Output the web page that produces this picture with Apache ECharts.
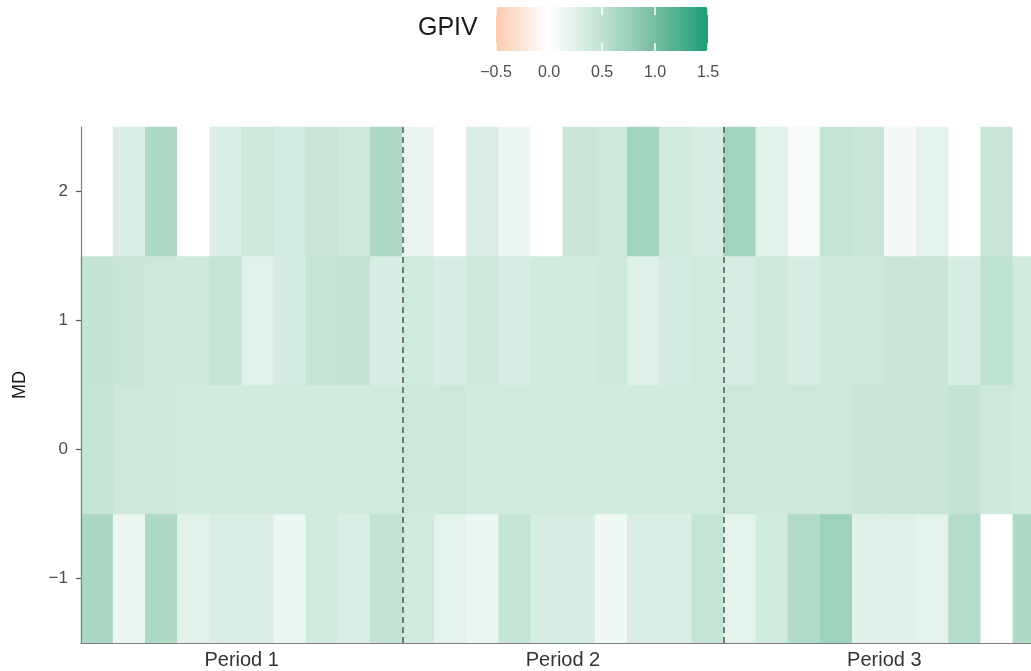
<!DOCTYPE html>
<html>
<head>
<meta charset="utf-8">
<script src="https://cdn.jsdelivr.net/npm/echarts@6/dist/echarts.min.js"></script>
<style>
    html, body { margin: 0; padding: 0; background: #fff; }
    #chart { width: 1031px; height: 671px; }
</style>
</head>
<body>
<div id="chart"></div>
<script>
// 数据：每列一个时间点，三段各 10 列
const columns = Array.from({ length: 30 }, (_, i) => String(i + 1));
const mdLabels = ['−1', '0', '1', '2'];
const periodLabels = { 5: 'Period 1', 15: 'Period 2', 25: 'Period 3' };
const periodBreaks = [10, 20];
const legendTicks = [-0.5, 0, 0.5, 1, 1.5];

const gpivMdMinus1 = [0.65, 0.16, 0.63, 0.23, 0.29, 0.29, 0.15, 0.37, 0.29, 0.48,
                      0.37, 0.22, 0.15, 0.47, 0.32, 0.32, 0.12, 0.29, 0.29, 0.47,
                      0.22, 0.37, 0.6, 0.72, 0.26, 0.26, 0.22, 0.58, 0, 0.63];
const gpivMd0 = [0.47, 0.39, 0.39, 0.37, 0.37, 0.37, 0.37, 0.37, 0.37, 0.37,
                 0.39, 0.4, 0.37, 0.37, 0.37, 0.37, 0.37, 0.37, 0.37, 0.37,
                 0.4, 0.39, 0.4, 0.39, 0.43, 0.43, 0.43, 0.48, 0.39, 0.37];
const gpivMd1 = [0.48, 0.44, 0.4, 0.39, 0.47, 0.25, 0.35, 0.47, 0.48, 0.32,
                 0.37, 0.32, 0.4, 0.32, 0.37, 0.37, 0.39, 0.26, 0.35, 0.38,
                 0.32, 0.39, 0.32, 0.39, 0.39, 0.43, 0.43, 0.32, 0.5, 0.37];
const gpivMd2 = [0, 0.29, 0.63, 0, 0.29, 0.4, 0.36, 0.44, 0.39, 0.63,
                 0.17, 0, 0.29, 0.15, 0, 0.44, 0.4, 0.7, 0.37, 0.32,
                 0.7, 0.25, 0.07, 0.47, 0.44, 0.09, 0.22, 0, 0.44, 0];

document.addEventListener('DOMContentLoaded', () => {
    initHeatmap();
});

function buildCells() {
    const rows = [gpivMdMinus1, gpivMd0, gpivMd1, gpivMd2];
    const cells = [];
    rows.forEach((row, y) => {
        row.forEach((v, x) => cells.push([x, y, v]));
    });
    return cells;
}

function fmtTick(v) {
    return v.toFixed(1).replace('-', '−');
}

function initHeatmap() {
    const myChart = echarts.init(document.getElementById('chart'));
    const axisColor = '#808080';
    const font = 'Liberation Sans';
    const option = {
        animation: false,
        title: {
            text: 'GPIV',
            left: 418,
            top: 16,
            padding: 0,
            textStyle: { fontSize: 25, fontWeight: 'normal', color: '#1a1a1a', fontFamily: font }
        },
        visualMap: {
            type: 'continuous',
            seriesIndex: 0,
            min: -0.5,
            max: 1.5,
            orient: 'horizontal',
            left: 496,
            top: 7,
            padding: 0,
            itemWidth: 44,
            itemHeight: 212,
            calculable: false,
            text: null,
            inRange: {
                color: ['#fccbae', '#ffffff', '#c0e2d2', '#76bea0', '#1b9e77']
            }
        },
        grid: [
            // 右侧有意超出画布，原图第三段最后一列被裁掉
            { left: 81, top: 127, width: 964, bottom: 28, outerBoundsMode: 'none' },
            { left: 496, top: 7, width: 212, height: 44, outerBoundsMode: 'none' }
        ],
        xAxis: [
            {
                type: 'category',
                data: columns,
                gridIndex: 0,
                z: 5,
                axisLine: { show: true, onZero: false, lineStyle: { color: axisColor, width: 1.2 } },
                axisTick: { show: false },
                axisLabel: { show: false },
                splitLine: { show: false }
            },
            {
                type: 'value',
                gridIndex: 0,
                min: 0,
                max: 30,
                interval: 5,
                position: 'bottom',
                axisLine: { show: false },
                axisTick: { show: false },
                splitLine: { show: false },
                axisLabel: {
                    margin: 7,
                    fontSize: 20,
                    color: '#333',
                    fontFamily: font,
                    formatter: v => periodLabels[v] || ''
                }
            },
            {
                type: 'value',
                gridIndex: 1,
                min: -0.5,
                max: 1.5,
                interval: 0.5,
                position: 'bottom',
                z: 10,
                axisLine: { show: false },
                axisTick: { show: true, inside: true, length: 8, lineStyle: { color: '#fff', width: 1.5 } },
                splitLine: { show: false },
                axisLabel: {
                    margin: 14,
                    fontSize: 16,
                    color: '#4d4d4d',
                    fontFamily: font,
                    customValues: legendTicks,
                    formatter: v => fmtTick(v)
                }
            },
            {
                type: 'value',
                gridIndex: 1,
                min: -0.5,
                max: 1.5,
                interval: 0.5,
                position: 'top',
                z: 10,
                axisLine: { show: false },
                axisTick: { show: true, inside: true, length: 8, lineStyle: { color: '#fff', width: 1.5 } },
                splitLine: { show: false },
                axisLabel: { show: false }
            }
        ],
        yAxis: [
            {
                type: 'category',
                data: mdLabels,
                gridIndex: 0,
                z: 5,
                name: 'MD',
                nameLocation: 'middle',
                nameGap: 52,
                nameTextStyle: { fontSize: 18, color: '#1a1a1a', fontFamily: font },
                axisLine: { show: true, onZero: false, lineStyle: { color: axisColor, width: 1.2 } },
                axisTick: { show: true, alignWithLabel: true, length: 5, lineStyle: { color: '#555', width: 1.2 } },
                axisLabel: { margin: 13, fontSize: 17, color: '#4d4d4d', fontFamily: font },
                splitLine: { show: false }
            },
            {
                type: 'value',
                gridIndex: 1,
                show: false
            }
        ],
        series: [
            {
                type: 'heatmap',
                xAxisIndex: 0,
                yAxisIndex: 0,
                data: buildCells(),
                emphasis: { disabled: true }
            },
            {
                type: 'scatter',
                xAxisIndex: 1,
                yAxisIndex: 0,
                data: [],
                silent: true,
                markLine: {
                    symbol: 'none',
                    silent: true,
                    label: { show: false },
                    lineStyle: { color: '#555', type: [6, 4], width: 1.5 },
                    data: periodBreaks.map(b => ({ xAxis: b }))
                }
            }
        ]
    };
    myChart.setOption(option);
}
</script>
</body>
</html>
